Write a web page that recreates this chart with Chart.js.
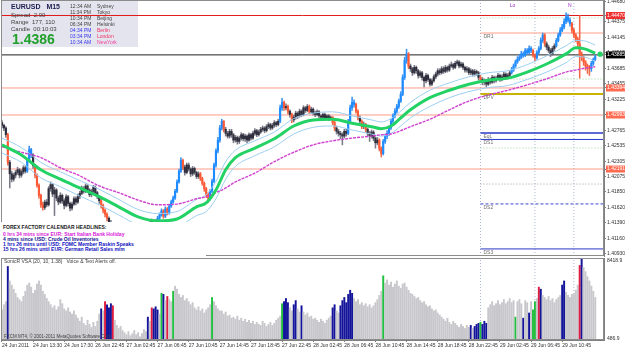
<!DOCTYPE html>
<html>
<head>
<meta charset="utf-8">
<script src="https://cdn.jsdelivr.net/npm/chart.js@4.4.1/dist/chart.umd.min.js"></script>
<style>
  body { margin: 0; background: #fff; }
  #wrap { position: relative; width: 625px; height: 352px; overflow: hidden; background: #fff;
          font-family: "Liberation Sans", Arial, sans-serif; }
  #info { position: absolute; left: 1px; top: 1px; width: 137px; height: 46px; z-index: 9; }
  #info div { position: absolute; white-space: nowrap; line-height: 1; }
  #news { position: absolute; left: 1px; top: 222px; width: 205px; height: 34px; background: #fff; z-index: 8; }
  #news div { position: absolute; left: 2px; white-space: nowrap; font-size: 5px; font-weight: bold; line-height: 1; }
  .note { position: absolute; z-index: 8; white-space: nowrap; font-size: 5px; color: #404040; line-height: 1; }
</style>
</head>
<body>
<div id="wrap">
  <canvas id="pc" width="625" height="257" style="position:absolute;left:0;top:0;z-index:5"></canvas>
  <canvas id="vc" width="625" height="95" style="position:absolute;left:0;top:257px;z-index:5"></canvas>
  <div id="info">
    <div style="left:10px;top:2px;font-size:7px;font-weight:bold;color:#1c1c50">EURUSD&nbsp;&nbsp;&nbsp;M15</div>
    <div style="left:10px;top:11px;font-size:6px;color:#404040">Spread&nbsp;&nbsp;2.90</div>
    <div style="left:10px;top:18px;font-size:6px;color:#404040">Range&nbsp;&nbsp;177, 110</div>
    <div style="left:10px;top:25px;font-size:6px;color:#404040">Candle&nbsp;&nbsp;00:10:03</div>
    <div style="left:11px;top:31px;font-size:14px;font-weight:bold;color:#22a02c">1.4386</div>
    <div style="left:69px;top:3px;font-size:5px;color:#404040">12:34 AM</div>
    <div style="left:96px;top:3px;font-size:5px;color:#404040">Sydney</div>
    <div style="left:69px;top:9px;font-size:5px;color:#404040">11:34 PM</div>
    <div style="left:96px;top:9px;font-size:5px;color:#404040">Tokyo</div>
    <div style="left:69px;top:15px;font-size:5px;color:#404040">10:34 PM</div>
    <div style="left:96px;top:15px;font-size:5px;color:#404040">Beijing</div>
    <div style="left:69px;top:21px;font-size:5px;color:#404040">06:34 PM</div>
    <div style="left:96px;top:21px;font-size:5px;color:#404040">Helsinki</div>
    <div style="left:69px;top:27px;font-size:5px;color:#3434f0">04:34 PM</div>
    <div style="left:96px;top:27px;font-size:5px;color:#f03060">Berlin</div>
    <div style="left:69px;top:33px;font-size:5px;color:#3434f0">03:34 PM</div>
    <div style="left:96px;top:33px;font-size:5px;color:#f03060">London</div>
    <div style="left:69px;top:39px;font-size:5px;color:#3434f0">10:34 AM</div>
    <div style="left:96px;top:39px;font-size:5px;color:#f040a0">NewYork</div>
  </div>
  <div id="news">
    <div style="top:3px;color:#202020">FOREX FACTORY CALENDAR HEADLINES:</div>
    <div style="top:10px;color:#d820d8">0 hrs 34 mins since EUR: Start Italian Bank Holiday</div>
    <div style="top:15px;color:#101090">4 mins since USD: Crude Oil Inventories</div>
    <div style="top:20px;color:#1010c0">1 hrs 26 mins until USD: FOMC Member Raskin Speaks</div>
    <div style="top:25px;color:#1010c0">15 hrs 26 mins until EUR: German Retail Sales m/m</div>
  </div>
  <div class="note" style="left:4px;top:259px">SonicR VSA (20, 10, 1.38)&nbsp;&nbsp;&nbsp;Voice &amp; Text Alerts off.</div>
  <div class="note" style="left:4px;top:335px;font-size:4.5px">FXCM MT4, © 2001-2011 MetaQuotes Software Corp.</div>
</div>
<script>
// price values are in pips above 1.4000 (EURUSD, M15)
const firstOpen = 288;
const closes = [284,280,270,229,212,204,210,214,218,210,215,221,216,232,248,240,224,210,195,180,
  166,162,170,166,190,196,182,188,176,170,180,172,165,178,168,161,167,175,170,178,
  183,190,186,194,188,181,186,192,184,178,172,165,158,152,146,140,136,131,128,133,
  126,121,125,118,122,127,120,115,119,124,130,126,122,128,135,132,138,142,137,141,
  146,151,157,149,160,154,164,170,176,186,200,216,232,222,214,225,219,212,220,214,
  208,212,205,198,190,181,176,186,201,225,246,262,280,290,278,272,268,275,270,262,
  266,260,265,270,264,268,262,270,265,272,276,270,274,278,280,276,282,285,280,284,
  288,285,290,310,318,310,312,305,300,292,296,302,298,305,300,310,306,312,304,308,
  302,300,304,298,296,300,295,298,294,296,288,280,275,272,270,268,275,272,290,310,
  318,315,305,295,290,282,285,278,272,268,274,265,258,262,250,242,260,268,272,280,
  290,298,305,312,320,330,355,380,390,372,368,362,370,365,358,362,355,350,358,352,
  345,350,356,360,365,362,368,364,370,366,372,374,370,376,378,372,375,370,366,368,
  362,365,360,364,362,355,352,348,350,345,352,348,355,350,354,358,352,356,360,355,
  358,362,366,372,378,382,385,390,388,395,392,398,395,388,384,392,398,410,418,405,
  400,395,390,398,402,410,418,425,430,438,445,440,435,425,418,412,405,390,385,378,
  372,370,368,376,382,386];
const highs = [291,286,282,272,232,216,213,217,222,220,218,224,224,235,253,250,242,226,212,197,
  182,170,173,174,193,200,198,192,190,179,184,182,175,181,180,170,170,178,178,182,
  186,194,193,197,196,190,189,195,194,186,180,174,167,160,154,148,143,139,134,136,
  135,128,128,127,125,130,129,122,122,127,133,132,128,131,138,138,141,145,144,144,
  149,154,160,159,163,162,167,173,179,189,203,219,236,234,225,228,228,221,223,222,
  216,215,214,207,200,192,184,189,204,228,249,266,284,293,291,281,275,278,278,272,
  269,268,268,273,272,271,270,273,272,275,279,278,277,281,283,282,285,288,287,287,
  291,290,293,314,324,320,316,314,307,302,299,305,304,308,307,313,312,315,314,311,
  310,305,307,306,300,302,302,300,300,298,297,290,283,278,275,273,278,278,293,314,
  326,322,317,307,298,292,289,287,280,275,277,276,267,266,264,252,263,271,276,283,
  293,301,309,315,323,334,359,385,397,392,375,370,373,372,367,365,364,357,361,360,
  354,353,359,363,368,368,371,371,373,372,375,378,376,379,381,380,378,377,372,371,
  370,368,367,367,366,364,358,355,353,352,355,354,358,357,357,361,360,359,363,362,
  361,365,370,375,381,386,389,394,393,398,398,402,401,397,390,395,401,414,421,420,
  408,403,398,401,405,413,421,429,434,442,451,449,443,437,428,420,415,447,393,387,
  380,375,373,379,384,388];
const lows = [280,276,266,225,191,200,201,206,211,206,207,212,213,214,230,236,220,206,192,176,
  162,158,159,163,164,186,178,150,172,166,168,168,160,163,164,157,158,165,166,168,
  175,181,183,184,185,178,178,184,181,175,168,161,154,148,142,137,133,128,124,125,
  122,117,118,114,115,120,116,112,113,117,122,123,119,120,126,129,130,136,134,135,
  139,144,149,146,147,151,152,162,168,174,184,198,214,218,210,212,216,208,209,211,
  205,205,202,195,186,177,169,173,184,199,222,243,259,277,274,268,265,265,266,258,
  259,256,257,262,261,260,258,260,262,263,269,267,268,272,275,273,274,279,277,278,
  281,282,283,288,306,306,307,301,296,288,289,293,294,296,297,298,303,304,301,302,
  299,297,298,295,293,294,292,293,291,292,285,276,271,268,264,255,265,268,270,288,
  306,311,302,292,286,279,279,274,268,260,265,261,250,255,246,237,240,257,264,269,
  278,287,295,302,309,318,328,352,376,368,364,358,360,361,354,355,351,341,347,349,
  342,343,348,353,357,359,360,361,362,363,364,370,367,368,373,369,370,367,363,363,
  359,359,357,357,358,351,348,344,344,341,343,345,346,347,348,352,349,350,354,352,
  353,356,360,364,370,376,380,383,385,386,389,390,392,385,380,382,390,396,407,401,
  396,392,386,388,395,400,408,416,423,427,435,437,431,421,414,408,401,354,380,373,
  366,361,358,364,373,380];
const blueRanges = [[13,15],[80,82],[84,84],[86,92],[107,113],[143,144],[178,181],[196,208],
  [262,272],[275,278],[285,292],[303,305]];
const redRanges = [[3,3],[17,21],[51,54],[83,83],[85,85],[93,93],[102,106],[114,114],[145,145],
  [147,147],[149,149],[158,158],[170,171],[182,183],[185,185],[187,187],[194,195],[209,209],
  [246,246],[273,274],[279,279],[293,302]];

// SonicR VSA volume histogram
const volumes = [3400,3900,4200,7600,6200,5800,5400,5000,4600,4400,4200,4700,5200,5800,6000,5600,5000,5300,5900,6200,
  5800,5200,4900,4500,4200,3900,3600,3800,3400,3700,4400,4000,3500,3300,3600,3200,3000,3300,2900,2600,
  2300,2700,2100,1900,2400,2000,1700,2200,1800,2300,3000,3500,3300,4200,3900,3600,4000,3800,2400,1900,
  1600,1800,1400,1200,1000,1300,900,1100,1400,1000,1200,800,1100,1500,1300,2700,2300,3600,3500,3700,
  3400,3000,5000,4900,4300,4700,4400,4200,5200,5700,5400,4900,4600,4800,4300,4500,4200,3900,4100,3600,
  3400,3700,3300,3500,3100,3400,3600,3900,4600,4200,3800,3500,3300,3300,3000,3200,2800,2900,2600,2700,
  2500,2800,2400,2600,2300,2500,2200,2400,2100,2300,2000,2200,2000,1900,2300,2100,1800,2000,2200,1900,
  2100,2400,2600,2800,4000,4200,4500,4100,3600,3300,3900,4300,3500,3200,3800,3200,2900,3100,2700,2800,
  2500,2600,2400,2200,2500,2300,2100,2400,2600,2800,3600,3900,3300,3100,3800,4300,4600,4100,4900,5300,
  5000,4500,4200,4400,3900,4100,3800,4000,3700,3900,3600,3800,4100,4400,4800,5200,6700,6000,6300,5800,
  6100,5600,5900,6200,5700,5500,5900,6000,5600,5300,5000,4900,4700,4500,4600,4300,4100,4200,3900,3700,
  3800,3500,3300,3400,3100,2900,2700,2500,2300,2600,2200,2000,2300,2100,1900,1700,2000,1800,1600,1900,
  1700,1900,1600,1800,2000,2100,2200,2000,2300,2100,3600,3900,4200,3800,4000,4300,3900,4100,4400,4000,
  4200,4500,4100,4300,2700,4200,4400,4000,2600,4300,4100,3100,4200,3400,4200,4500,5600,5400,4800,4600,
  4400,4700,4300,4500,4100,4400,4600,4800,5800,6200,5100,4800,4600,4900,5000,5300,5800,7700,8300,7500,
  7100,6600,6200,5700,5200,4600];
const volBlue = [3,51,54,55,56,75,78,79,80,83,145,146,147,150,151,154,170,171,174,175,176,177,178,179,180,
  241,243,244,245,247,248,249,268,271,277,288,289,298];
const volRed = [53,57,77,85,276,297];
const volGreen = [82,88,108,144,196,246,264,273,274];
const volTop = 8418.9;
const volBottom = 486.9;
const volTickLabels = ['8418.9', '486.9'];
const volTickAt = [8130, 590];

// moving averages, sampled along the bar index
const maIdx = [0,10,20,30,40,50,60,70,80,90,100,105,110,115,120,130,140,150,160,170,180,190,195,200,205,210,
  220,230,240,250,260,270,280,290,295,300,305];
const emaMid = [255,240,218,204,191,178,163,148,142,145,163,169,188,218,236,250,264,283,292,293,287,282,279,283,
  295,307,325,336,345,351,354,363,375,390,399,397,391];
const bandHi = [265,251,229,215,202,189,174,159,153,156,174,181,201,230,247,261,274,294,302,304,298,292,289,294,
  305,318,336,347,356,362,365,374,387,402,410,409,403];
const bandLo = [243,229,206,193,179,166,151,136,130,133,150,156,175,204,223,239,252,271,281,283,277,271,268,272,
  283,295,312,325,334,340,343,352,363,377,386,385,379];
const slowMa = [252,244,236,221,209,194,184,173,166,167,175,178,184,191,200,213,230,244,255,261,265,268,270,271,
  276,282,293,307,320,329,336,344,353,363,366,369,371];
const dotAt = [307.5, 1.43896];

// horizontal levels (prices)
const redLevels = [1.44470];
const bidLevel = [1.43885];
const salmonLevels = [1.43394, 1.42993, 1.42191];
const pivotFrom = 246;
const pivotNames = ['DR1', 'DPV', 'EqL', 'DS1', 'DS2', 'DS3'];
const pivotPrices = [1.44210, 1.43305, 1.42726, 1.42630, 1.41673, 1.41005];
const greenDotLevels = [1.44435, 1.43527, 1.42503];
const grayDotLevels = [1.41968];
const separators = [246, 274, 294];
const topTags = ['Lo', 'N'];
const topTagIdx = [261, 291];

const yTicks = [1.40930,1.41160,1.41390,1.41620,1.41850,1.42075,1.42305,1.42535,1.42765,1.42995,
  1.43225,1.43455,1.43685,1.43915,1.44145,1.44375,1.44680];
const markTicks = [1.44470, 1.43885, 1.43394, 1.42993, 1.42191];
const xLabelIdx = [0,16,32,48,64,80,96,112,128,144,160,176,192,208,224,240,256,272,288];
const xLabels = ['24 Jun 2011','24 Jun 13:30','24 Jun 17:30','26 Jun 22:45','27 Jun 02:45','27 Jun 06:45',
  '27 Jun 10:45','27 Jun 14:45','27 Jun 18:45','27 Jun 22:45','28 Jun 02:45','28 Jun 06:45','28 Jun 10:45',
  '28 Jun 14:45','28 Jun 18:45','28 Jun 22:45','29 Jun 02:45','29 Jun 06:45','29 Jun 10:45'];

const SLOTS = 310;
const yMin = 1.40900, yMax = 1.44700;

Chart.defaults.font.family = '"Liberation Sans", Arial, sans-serif';
Chart.defaults.font.size = 5;
Chart.defaults.color = '#303030';

const pr = v => +(1.4 + v / 10000).toFixed(5);
const n = Math.min(closes.length, highs.length, lows.length);
const bars = Array.from({length: n}, (_, i) => i);
const opens = bars.map(i => i === 0 ? firstOpen : closes[i - 1]);

const tone = bars.map(() => 'n');
blueRanges.forEach(([a, b]) => { for (let i = a; i <= b; i++) tone[i] = 'b'; });
redRanges.forEach(([a, b]) => { for (let i = a; i <= b; i++) tone[i] = 'r'; });
const bodyCol = {n: '#2e2e3c', b: '#1e8cff', r: '#ff5a36'};
const wickCol = {n: '#7a7a88', b: '#3c92f0', r: '#f06848'};

const hline = (price, from, color, width, dash) => ({
  type: 'line', data: [{x: from, y: price}, {x: SLOTS - 0.5, y: price}],
  borderColor: color, borderWidth: width, borderDash: dash || [], pointRadius: 0, order: 30
});
const vline = (idx, lo, hi) => ({
  type: 'line', data: [{x: idx, y: lo}, {x: idx, y: hi}],
  borderColor: '#a8b4d0', borderWidth: 1, borderDash: [1, 2], pointRadius: 0, order: 31
});
const maLine = (vals, color, width, dash, order) => ({
  type: 'line', data: maIdx.map((x, k) => ({x, y: pr(vals[k])})),
  borderColor: color, borderWidth: width, borderDash: dash || [], pointRadius: 0,
  cubicInterpolationMode: 'monotone', order
});

const pivotStyle = [
  ['#ff9c88', 1, []], ['#c8b400', 2, []], ['#2a36c8', 1.5, []],
  ['#2a36c8', 1, []], ['#3a46d0', 1, [3, 2]], ['#2a36c8', 1, []]
];

const priceSets = [];
redLevels.forEach(p => priceSets.push(hline(p, -0.5, '#e01818', 1)));
salmonLevels.forEach(p => priceSets.push(hline(p, -0.5, '#ff9c88', 1)));
bidLevel.forEach(p => priceSets.push(hline(p, -0.5, '#202020', 1)));
pivotPrices.forEach((p, k) => priceSets.push(hline(p, pivotFrom, pivotStyle[k][0], pivotStyle[k][1], pivotStyle[k][2])));
greenDotLevels.forEach(p => priceSets.push(hline(p, pivotFrom, '#9ad89a', 1, [1, 2])));
grayDotLevels.forEach(p => priceSets.push(hline(p, pivotFrom, '#a0a0a0', 1, [1, 2])));
separators.forEach(i => priceSets.push(vline(i, yMin, yMax)));

priceSets.push({
  type: 'bar', data: bars.map(i => ({x: i, y: [pr(lows[i]), pr(highs[i])]})),
  backgroundColor: c => wickCol[tone[c.dataIndex]], barThickness: 0.9, grouped: false, order: 20
});
priceSets.push({
  type: 'bar', data: bars.map(i => ({x: i, y: [pr(opens[i]), pr(closes[i])]})),
  backgroundColor: c => bodyCol[tone[c.dataIndex]], barThickness: 1.5, minBarLength: 1, grouped: false, order: 19
});
priceSets.push(maLine(bandHi, '#9ccff2', 1, [], 3));
priceSets.push(maLine(bandLo, '#9ccff2', 1, [], 3));
priceSets.push(maLine(slowMa, '#d040d0', 1.4, [3, 1], 2));
priceSets.push(maLine(emaMid, '#22d264', 3, [], 1));
priceSets.push({
  type: 'line', data: [{x: dotAt[0], y: dotAt[1]}], showLine: false,
  pointRadius: 2.6, pointBackgroundColor: '#22d264', pointBorderWidth: 0, order: 0
});

const markIdx = v => markTicks.findIndex(m => Math.abs(m - v) < 1e-7);
const markBg = ['#f03030', '#000000', '#ff6a50', '#ff6a50', '#ff6a50'];

const priceDecor = {
  id: 'priceDecor',
  beforeDatasetsDraw(chart) {
    const ctx = chart.ctx;
    ctx.save();
    ctx.fillStyle = '#e4e4ee';
    ctx.fillRect(1, 1, 137, 46);
    ctx.restore();
  },
  afterDatasetsDraw(chart) {
    const {ctx, chartArea: a, scales: {x, y}} = chart;
    ctx.save();
    ctx.strokeStyle = '#8c8c8c';
    ctx.lineWidth = 1;
    ctx.strokeRect(a.left + 0.5, a.top + 0.5, a.right - a.left - 1, a.bottom - a.top - 1);
    ctx.font = '5px "Liberation Sans"';
    ctx.textBaseline = 'top';
    ctx.fillStyle = '#707070';
    pivotNames.forEach((t, k) => ctx.fillText(t, x.getPixelForValue(pivotFrom) + 3, y.getPixelForValue(pivotPrices[k]) + 1));
    ctx.fillStyle = '#9a30c8';
    topTags.forEach((t, k) => ctx.fillText(t, x.getPixelForValue(topTagIdx[k]), a.top + 3));
    ctx.restore();
  }
};

new Chart(document.getElementById('pc'), {
  type: 'bar',
  data: {datasets: priceSets},
  options: {
    responsive: false, animation: false, devicePixelRatio: 1, events: [],
    layout: {autoPadding: false, padding: {left: 1, right: 0, top: 0, bottom: 1}},
    plugins: {legend: {display: false}, tooltip: {enabled: false}},
    scales: {
      x: {type: 'linear', offset: false, min: -0.5, max: SLOTS - 0.5, display: false},
      y: {
        position: 'right', min: yMin, max: yMax,
        afterBuildTicks: s => { s.ticks = yTicks.concat(markTicks).map(v => ({value: v})); },
        afterFit: s => { s.width = 21; s.paddingTop = 0; s.paddingBottom = 0; },
        grid: {drawOnChartArea: false, drawTicks: true, tickLength: 2, color: '#808080'},
        border: {color: '#808080'},
        ticks: {
          autoSkip: false, padding: 1, font: {size: 5},
          callback: v => v.toFixed(5),
          color: c => markIdx(c.tick.value) >= 0 ? '#ffffff' : '#303030',
          showLabelBackdrop: c => markIdx(c.tick.value) >= 0,
          backdropColor: c => markBg[markIdx(c.tick.value)] || 'rgba(0,0,0,0)',
          backdropPadding: {x: 1, y: 0.5}
        }
      }
    }
  },
  plugins: [priceDecor]
});

// volume panel
const vBars = Array.from({length: Math.min(volumes.length, n)}, (_, i) => i);
const vTone = vBars.map(() => '#c8c8cc');
volBlue.forEach(i => { vTone[i] = '#14149a'; });
volRed.forEach(i => { vTone[i] = '#e01c40'; });
volGreen.forEach(i => { vTone[i] = '#22c040'; });

const volSets = separators.map(i => vline(i, 0, volTop * 2));
volSets.push({
  type: 'bar', data: vBars.map(i => ({x: i, y: volumes[i]})),
  backgroundColor: c => vTone[c.dataIndex], barThickness: 1.3, grouped: false, order: 5
});

const volFrame = {
  id: 'volFrame',
  afterDatasetsDraw(chart) {
    const {ctx, chartArea: a} = chart;
    ctx.save();
    ctx.strokeStyle = '#8c8c8c';
    ctx.lineWidth = 1;
    ctx.strokeRect(a.left + 0.5, a.top + 0.5, a.right - a.left - 1, a.bottom - a.top - 1);
    ctx.restore();
  }
};

new Chart(document.getElementById('vc'), {
  type: 'bar',
  data: {datasets: volSets},
  options: {
    responsive: false, animation: false, devicePixelRatio: 1, events: [],
    layout: {autoPadding: false, padding: {left: 1, right: 0, top: 1, bottom: 0}},
    plugins: {legend: {display: false}, tooltip: {enabled: false}},
    scales: {
      x: {
        type: 'linear', offset: false, min: -0.5, max: SLOTS - 0.5,
        afterBuildTicks: s => { s.ticks = xLabelIdx.map(v => ({value: v})); },
        afterFit: s => { s.height = 12; s.paddingLeft = 0; s.paddingRight = 0; },
        grid: {drawOnChartArea: false, drawTicks: true, tickLength: 2, color: '#808080', offset: false},
        border: {color: '#808080'},
        ticks: {autoSkip: false, maxRotation: 0, align: 'start', padding: 1, font: {size: 5},
                callback: (v, i) => xLabels[i]}
      },
      y: {
        position: 'right', min: volBottom, max: volTop,
        afterBuildTicks: s => { s.ticks = volTickAt.map(v => ({value: v})); },
        afterFit: s => { s.width = 21; s.paddingTop = 0; s.paddingBottom = 0; },
        grid: {drawOnChartArea: false, drawTicks: false},
        border: {color: '#808080'},
        ticks: {autoSkip: false, padding: 3, font: {size: 5}, callback: (v, i) => volTickLabels[i]}
      }
    }
  },
  plugins: [volFrame]
});
</script>
</body>
</html>
